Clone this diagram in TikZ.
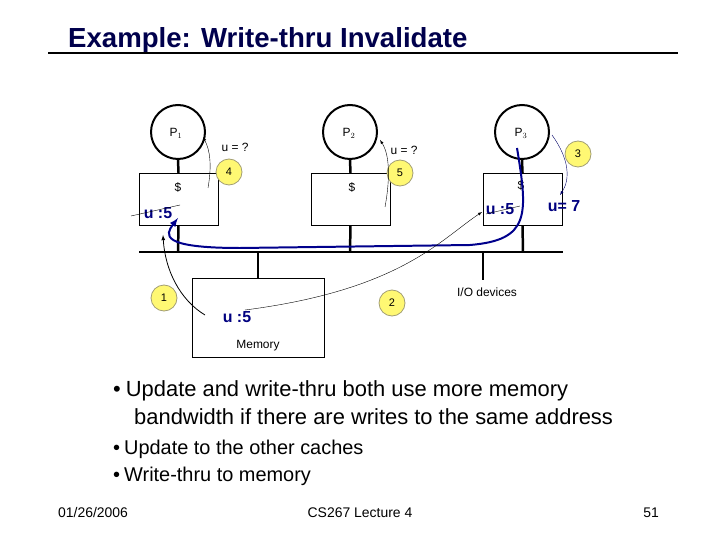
\documentclass[tikz,border=0pt]{standalone}
\usepackage{fontspec}
\setmainfont{Liberation Sans}
\begin{document}
\begin{tikzpicture}[x=1bp,y=-1bp,
  proc/.style={circle,draw,line width=2pt,minimum size=54bp,inner sep=0pt},
  cache/.style={draw,minimum width=79bp,minimum height=52bp,inner sep=0pt},
  stepc/.style={circle,draw=yellow!40!black!70,line width=0.8pt,fill=yellow!55!white,minimum size=26bp,inner sep=0pt,font=\fontsize{11}{12}\selectfont},
  small/.style={font=\fontsize{12}{13}\selectfont},
  uval/.style={text=blue!50!black,font=\bfseries\fontsize{16}{18}\selectfont},
  bus/.style={line width=2.5pt},
  tarr/.style={->,>=latex,line width=0.4pt}]
\useasboundingbox (0,0) rectangle (720,540);
% title
\node[anchor=base west,font=\bfseries\fontsize{27.7}{30}\selectfont,text=blue!30!black,inner sep=0pt] (title) at (68,48) {Example: Write-thru Invalidate};
\draw[line width=3pt] (48,53) -- (678,53);
% processors
\node[proc] (p1) at (178,132) {};
\node[small] (p1l) at (176,133) {P$_1$};
\node[proc] (p2) at (350,132) {};
\node[small] (p2l) at (349,133) {P$_2$};
\node[proc] (p3) at (522,132) {};
\node[small] (p3l) at (521,133) {P$_3$};
% caches
\node[cache] (c1) at (178.5,199) {};
\node[cache] (c2) at (350.5,199) {};
\node[cache] (c3) at (522.5,199) {};
\node[small] (d1) at (178,187) {\$};
\node[small] (d2) at (352,187) {\$};
\node[small] (d3) at (521,185) {\$};
\draw[line width=2.5pt] (p1.south) -- (c1.north) (p2.south) -- (c2.north) (p3.south) -- (c3.north);
% bus
\coordinate (bl) at (139,252); \coordinate (br) at (563,252);
\draw[bus] (bl) -- (br);
\draw[line width=2.5pt] (c1.south) -- (178,252) (c2.south) -- (350,252) (c3.south) -- (523,252);
% memory
\node[draw,minimum width=132bp,minimum height=79bp,inner sep=0pt] (mem) at (258,317.5) {};
\draw[line width=2.5pt] (258,252) -- (mem.north);
\node[small] (meml) at (258,346) {Memory};
\coordinate (io) at (483,280);
\draw[line width=2.5pt] (483,252) -- (io);
\node[small] (iol) at (487,292) {I/O devices};
% values
\node[uval] (u1) at (158,213) {u :5};
\node[uval] (u3) at (500,209) {u :5};
\node[uval] (um) at (237,317) {u :5};
\node[uval] (u7) at (564,206) {u= 7};
\node[small] (q1) at (235,147) {u = ?};
\node[small] (q2) at (404,150) {u = ?};
% strike lines
\draw[line width=0.4pt] (131,216) -- (180,205);
\draw[line width=0.4pt] (486,214) -- (520,206);
% steps
\node[stepc] (s1) at (164,298) {1};
\node[stepc] (s2) at (392,303) {2};
\node[stepc] (s3) at (578,154) {3};
\node[stepc] (s4) at (229,172) {4};
\node[stepc] (s5) at (400,173) {5};
% arrows
\draw[->,>=latex,line width=2pt,blue!55!black] (517,148) .. controls (528,215) and (530,240) .. (470,245)
  -- (240,248) .. controls (160,248) and (165,235) .. (178,218);
\draw[->,>=latex,line width=0.8pt] (205,315) .. controls (180,300) and (165,270) .. (163,235);
\draw[tarr] (245,310) .. controls (400,290) and (440,240) .. (482,212);
\draw[tarr,blue!40!black] (552,135) .. controls (570,160) and (570,180) .. (560,195);
\draw[tarr] (208,188) .. controls (212,165) and (210,150) .. (203,137);
\draw[tarr] (385,207) .. controls (390,180) and (390,155) .. (380,140);
% bullets
\node[anchor=base west,font=\fontsize{22}{26}\selectfont,inner sep=0pt] (b1) at (113,396) {\textbullet\hspace{5bp}Update and write-thru both use more memory};
\node[anchor=base west,font=\fontsize{22}{26}\selectfont,inner sep=0pt] (b1b) at (134,424) {bandwidth if there are writes to the same address};
\node[anchor=base west,font=\fontsize{20}{22}\selectfont,inner sep=0pt] (b2) at (113,454) {\textbullet\hspace{4bp}Update to the other caches};
\node[anchor=base west,font=\fontsize{20}{22}\selectfont,inner sep=0pt] (b3) at (113,481) {\textbullet\hspace{4bp}Write-thru to memory};
% footer
\node[anchor=base west,font=\fontsize{14}{16}\selectfont,inner sep=0pt] (f1) at (58,517) {01/26/2006};
\node[anchor=base,font=\fontsize{14}{16}\selectfont,inner sep=0pt] (f2) at (360,517) {CS267 Lecture 4};
\node[anchor=base east,font=\fontsize{14}{16}\selectfont,inner sep=0pt] (f3) at (659,517) {51};
\end{tikzpicture}
\end{document}
